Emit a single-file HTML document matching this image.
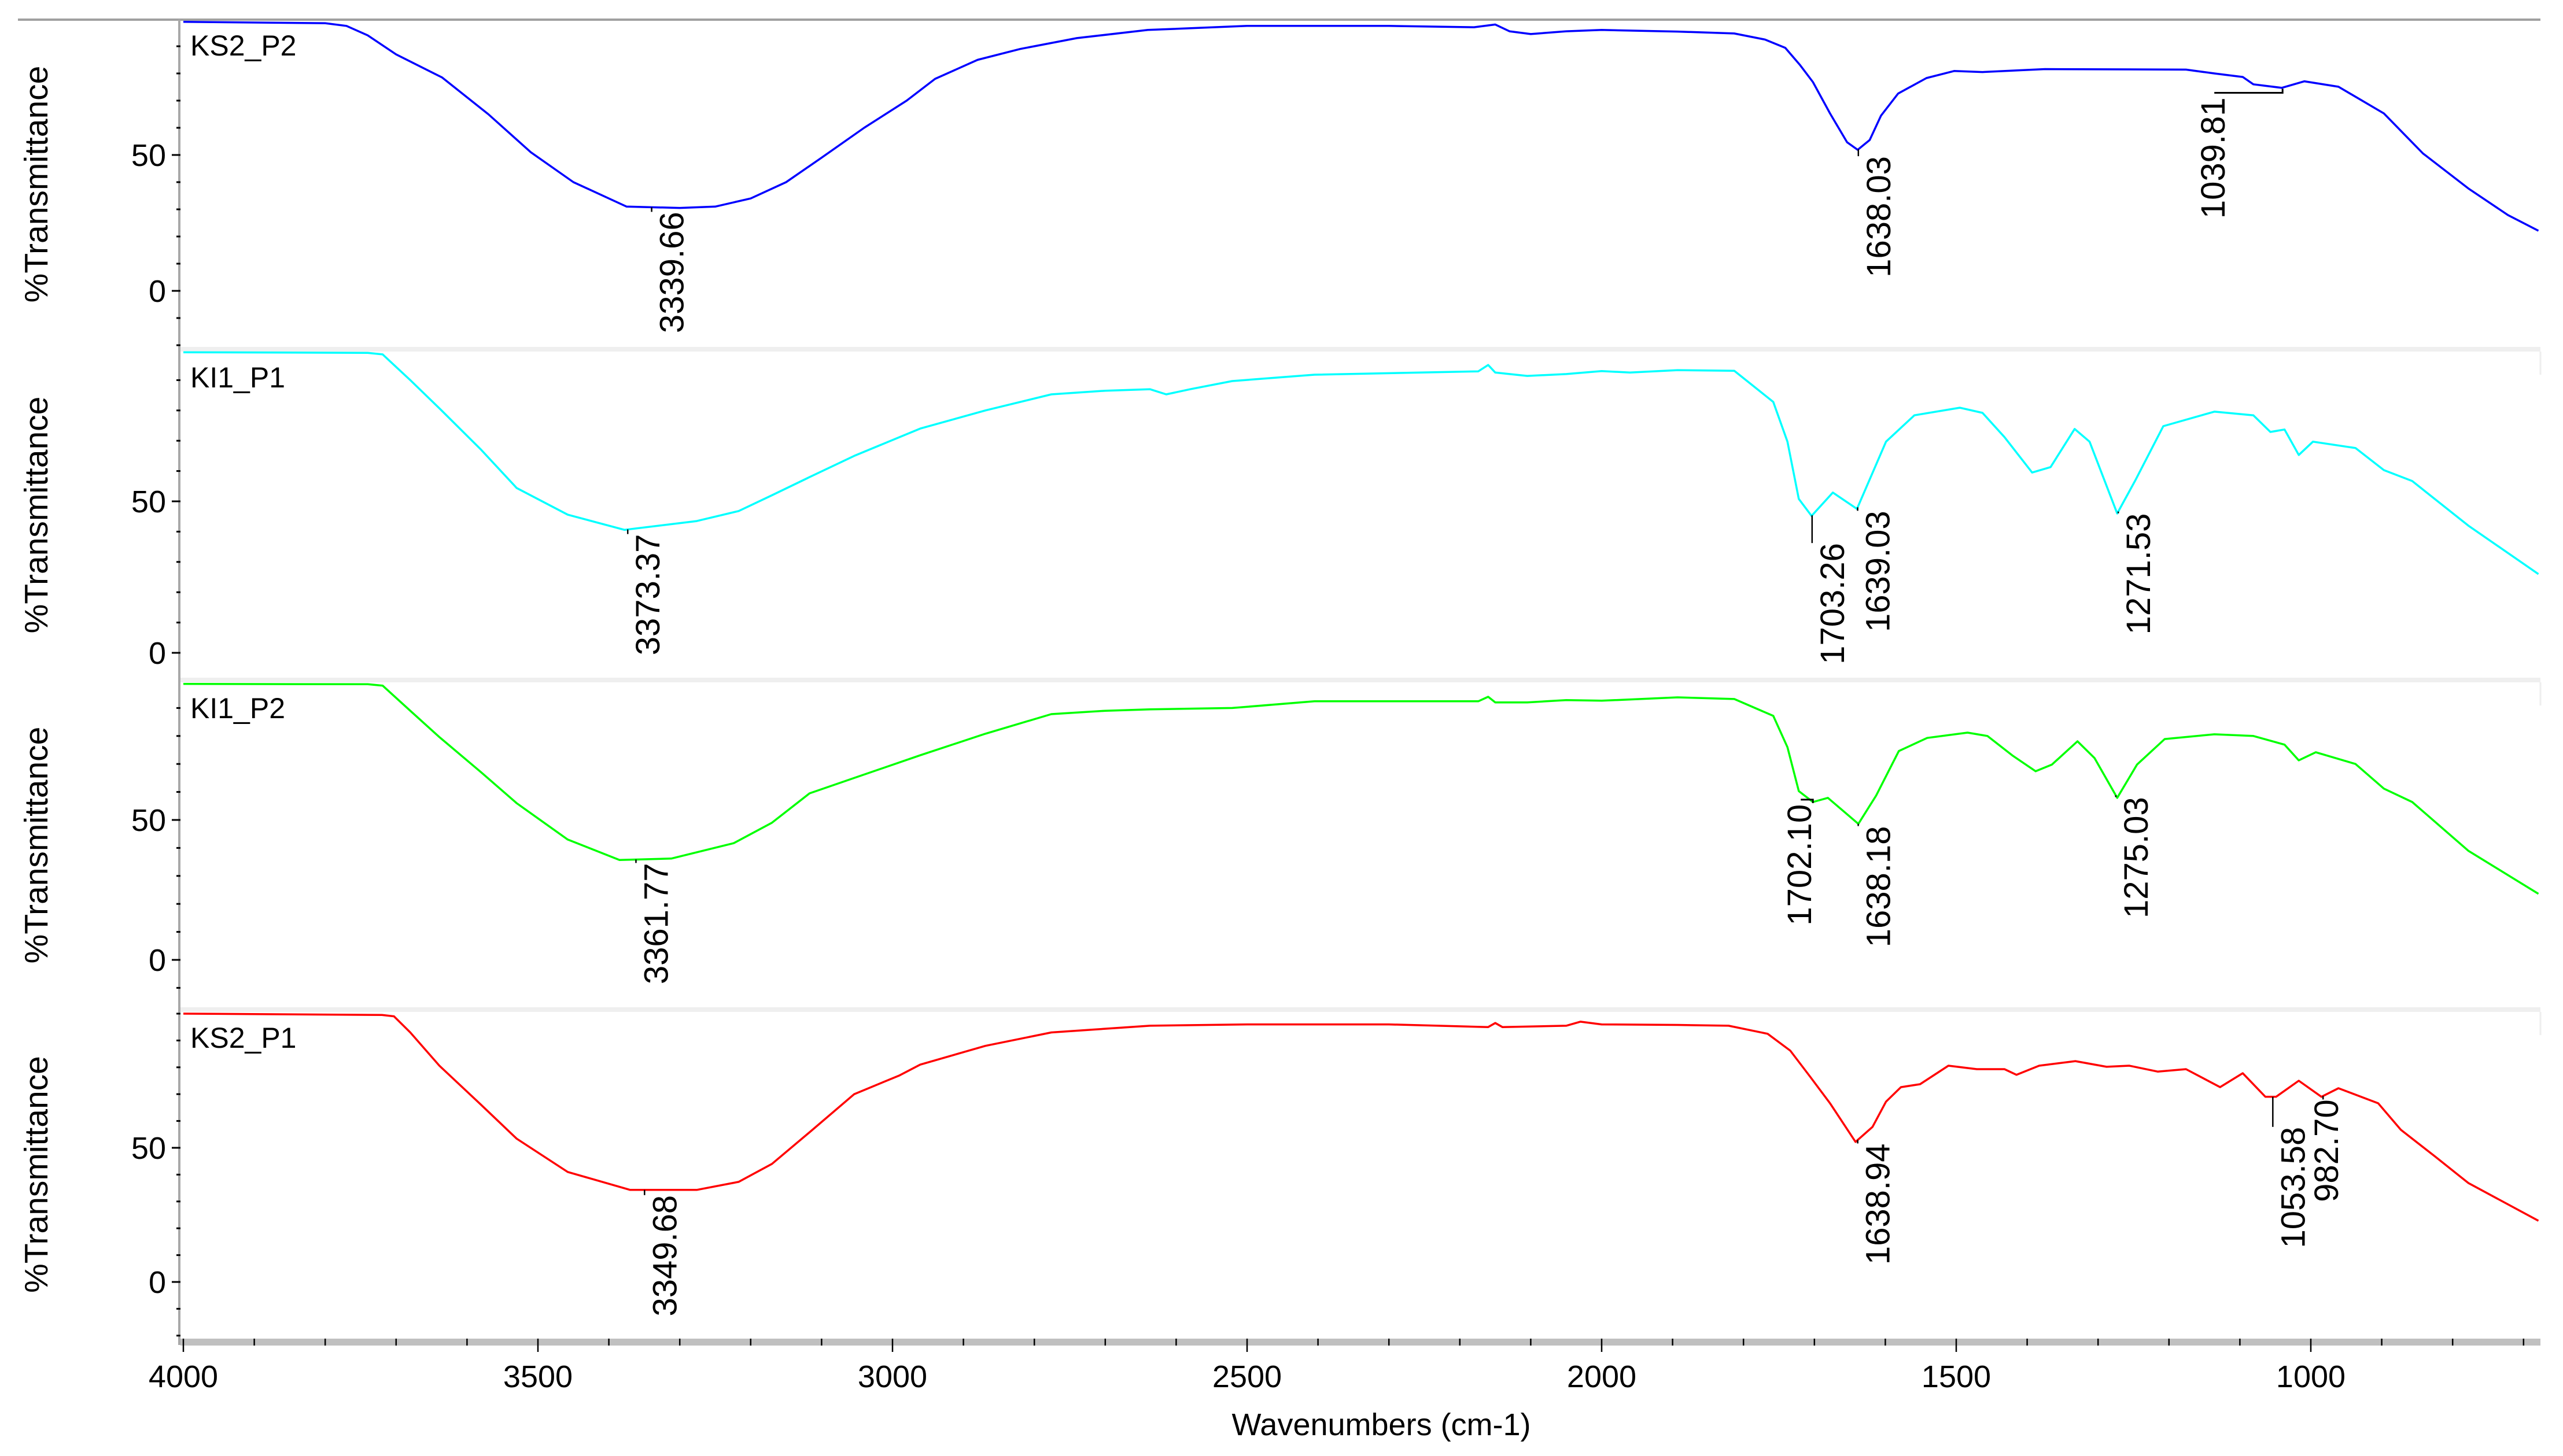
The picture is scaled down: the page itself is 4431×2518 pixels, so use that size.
<!DOCTYPE html>
<html><head><meta charset="utf-8"><title>FTIR spectra</title>
<style>
html,body{margin:0;padding:0;background:#fff;}
svg{display:block;font-family:"Liberation Sans",Arial,sans-serif;}
</style></head>
<body>
<svg id="chart" width="4431" height="2518" viewBox="0 0 4431 2518" xmlns="http://www.w3.org/2000/svg"></svg>
<script>
// ---- data ----
const seriesNames = ["KS2_P2","KI1_P1","KI1_P2","KS2_P1"];
const seriesColors = ["#0000ff","#00ffff","#00ff00","#ff0000"];
const blueWn = [4000,3800,3770,3740,3700,3635,3570,3510,3450,3400,3375,3300,3250,3200,3150,3100,3040,2980,2940,2880,2820,2740,2640,2500,2300,2180,2150,2130,2100,2050,2000,1893,1813,1770,1741,1720,1702,1678,1654,1639,1622,1606,1582,1542,1503,1463,1375,1176,1136,1096,1081,1041,1009,961,897,842,778,722,679];
const blueT = [99,98.5,97.5,94,87,78.5,65,51,40,34,31,30.5,31,34,40,49,60,70,78,85,89,93,96,97.5,97.5,97,98,95.5,94.5,95.5,96,95.4,94.7,92.5,89.4,83,76.8,65.3,54.7,51.9,55.5,64.5,72.6,78.3,80.9,80.5,81.6,81.4,80,78.7,76,74.7,77.1,75.1,65.3,50.6,37.7,27.9,22.1];
const cyanWn = [4000,3740,3719,3680,3639,3580,3530,3458,3378,3276,3217,3170,3117,3054,2961,2869,2776,2700,2637,2614,2580,2521,2405,2174,2160,2150,2105,2050,2000,1960,1893,1813,1758,1738,1722,1704,1674,1640,1599,1559,1495,1463,1432,1393,1367,1333,1312,1273,1248,1208,1136,1081,1057,1037,1017,997,937,897,857,778,679];
const cyanT = [99.2,99,98.5,90,80.7,67,54.4,45.6,40.6,43.5,46.8,52,58,65,74,80,85.3,86.5,87,85.3,87,89.7,91.8,92.9,95,92.5,91.4,92,93,92.5,93.3,93.1,82.8,69.7,50.8,45.2,52.9,47.5,69.7,78.4,80.9,79.2,71.2,59.5,61.3,73.9,69.7,46,56.7,74.8,79.6,78.4,72.9,73.7,65.3,69.7,67.6,60.3,56.7,42,26];
const greenWn = [4000,3740,3719,3680,3639,3580,3530,3458,3385,3312,3224,3170,3117,3054,2961,2869,2776,2700,2637,2521,2405,2174,2160,2150,2105,2050,2000,1893,1813,1758,1738,1722,1702,1681,1638,1613,1581,1541,1484,1456,1420,1388,1365,1329,1305,1273,1245,1206,1136,1081,1037,1017,993,937,897,857,778,679];
const greenT = [98.6,98.5,98,89,79.6,67,56,43,35.7,36.2,41.7,49,59.5,65,73.1,80.8,87.8,89,89.5,90,92.4,92.4,94,92,92,92.8,92.6,93.8,93.2,87.2,76,60.3,56.4,57.9,48.6,58.7,74.6,79.3,81.2,80,72.9,67.4,69.8,78.1,72.1,57.9,69.8,78.9,80.6,80,76.9,71.3,74.2,70,61.2,56.4,39,23.6];
const redWn = [4000,3720,3703,3680,3639,3580,3530,3458,3370,3276,3217,3170,3117,3054,2990,2961,2869,2776,2637,2500,2300,2160,2150,2140,2050,2030,2000,1893,1821,1766,1734,1706,1678,1642,1618,1599,1578,1551,1511,1471,1432,1415,1383,1332,1288,1256,1216,1176,1128,1096,1064,1049,1017,985,961,905,873,825,778,679];
const redT = [100,99.5,99,93,80.6,66,53.4,41,34.3,34.3,37.3,44,55.8,70,77,81,88,93,95.5,96,96,95,96.5,95,95.5,97,96,95.8,95.5,92.5,86.2,76.5,66.6,52.2,57.8,67.2,72.6,73.7,80.6,79.3,79.3,77.2,80.6,82.3,80.2,80.6,78.4,79.3,72.6,77.8,69,69,75,69,72.2,66.6,56.7,46.8,36.9,22.8];
const xTicks = [4000,3500,3000,2500,2000,1500,1000];
const yTickLabels = [0,50];
// peak annotations per panel
const peakPanel = [0,0,0,1,1,1,1,2,2,2,2,3,3,3,3];
const peakWn = [3339.66,1638.03,1039.81,3373.37,1703.26,1639.03,1271.53,3361.77,1702.10,1638.18,1275.03,3349.68,1638.94,1053.58,982.70];
const peakText = ["3339.66","1638.03","1039.81","3373.37","1703.26","1639.03","1271.53","3361.77","1702.10","1638.18","1275.03","3349.68","1638.94","1053.58","982.70"];

// ---- layout ----
const X0 = 317, PXPER = 1.226, XR = 4392;
const panels = [
  {top:34, y0:503, y50:268, bottom:603},
  {top:608, y0:1129, y50:867, bottom:1173},
  {top:1180, y0:1660, y50:1418, bottom:1743},
  {top:1750, y0:2217, y50:1985, bottom:2312}
];
const peakDx = [55,55,-100,55,55,55,55,55,-3,55,55,55,55,55,26];
const peakGap = [8,12,17,8,48,6,3,6,4,4,3,9,6,52,6];
const series = [[blueWn,blueT],[cyanWn,cyanT],[greenWn,greenT],[redWn,redT]];

const NS = "http://www.w3.org/2000/svg";
const svg = document.getElementById("chart");
function xs(w){ return X0 + (4000 - w) * PXPER; }
function ys(p, t){ const P = panels[p]; return P.y0 - t * (P.y0 - P.y50) / 50; }
function mk(tag, attrs, parent){
  const e = document.createElementNS(NS, tag);
  for (const k in attrs) e.setAttribute(k, attrs[k]);
  (parent || svg).appendChild(e);
  return e;
}
function interp(wn, T, w){
  for (let i=0;i<wn.length-1;i++){
    if (w <= wn[i] && w >= wn[i+1]){
      const f = (wn[i]-w)/(wn[i]-wn[i+1]);
      return T[i] + f*(T[i+1]-T[i]);
    }
  }
  return T[T.length-1];
}

// top border
let e = mk("line",{x1:31,y1:34,x2:XR,y2:34,stroke:"#a0a0a0","stroke-width":4});



// panel separators
for (let p=1;p<4;p++){
  e = mk("rect",{x:312,y:panels[p].top-8,width:XR-312,height:8,fill:"#efefef"});
  
  
  e = mk("line",{x1:XR,y1:panels[p].top,x2:XR,y2:panels[p].top+40,stroke:"#eeeeee","stroke-width":3});
  
  
}

// left axis
e = mk("line",{x1:310,y1:34,x2:310,y2:2326,stroke:"#a8a8a8","stroke-width":4});



for (let p=0;p<4;p++){
  const P = panels[p];
  const g = mk("g",{});
  
  
  for (let t=-20;t<=110;t+=10){
    const y = ys(p,t);
    if (y < P.top+2 || y > P.bottom+2) continue;
    const major = yTickLabels.indexOf(t) >= 0;
    e = mk("line",{x1: major?297:305, y1:y, x2:312, y2:y, stroke:"#000","stroke-width":3}, g);
    
    
  }
  yTickLabels.forEach(t=>{
    e = mk("text",{x:287,y:ys(p,t)+19,"text-anchor":"end","font-size":54,fill:"#000"}, g);
    e.textContent = t;
    
    
  });
  const cy = (P.top + P.bottom)/2;
  e = mk("text",{x:0,y:0,"text-anchor":"middle","font-size":57,fill:"#000",transform:"translate(82,"+cy+") rotate(-90)"}, g);
  e.textContent = "%Transmittance";
  
  
  const [wn,T] = series[p];
  const pts = wn.map((w,i)=> xs(w).toFixed(1)+","+ys(p,T[i]).toFixed(1)).join(" ");
  e = mk("polyline",{points:pts,fill:"none",stroke:seriesColors[p],"stroke-width":3.5,"stroke-linejoin":"round"}, g);
  
  
  e = mk("text",{x:329,y:P.top+62,"font-size":50,fill:"#000"}, g);
  e.textContent = seriesNames[p];
  
  
}

// peak annotations
peakWn.forEach((w,i)=>{
  const p = peakPanel[i];
  const [wn,T] = series[p];
  const px = xs(w);
  const py = ys(p, interp(wn,T,w));
  const top = py + peakGap[i];
  const g = mk("g",{});
  
  
  if (peakDx[i] < 0){
    e = mk("polyline",{points:(px)+","+(py+2)+" "+(px)+","+(top-8)+" "+(px+peakDx[i]-18)+","+(top-8),fill:"none",stroke:"#000","stroke-width":3}, g);
  } else {
    e = mk("line",{x1:px,y1:py,x2:px,y2:top,stroke:"#000","stroke-width":2.5}, g);
  }
  
  
  e = mk("text",{x:0,y:0,"text-anchor":"end","font-size":58,fill:"#000",transform:"translate("+(px+peakDx[i])+","+top+") rotate(-90)"}, g);
  e.textContent = peakText[i];
  
  
});

// x axis bar
e = mk("rect",{x:312,y:2315,width:XR-312,height:12,fill:"#c0c0c0"});


for (let w=4000; w>=700; w-=100){
  const x = xs(w);
  const major = xTicks.indexOf(w) >= 0;
  e = mk("line",{x1:x,y1:2315,x2:x,y2: major?2338:2327,stroke:"#000","stroke-width":2.5});
  
  
}
xTicks.forEach(w=>{
  e = mk("text",{x:xs(w),y:2399,"text-anchor":"middle","font-size":54,fill:"#000"});
  e.textContent = w;
  
  
});
e = mk("text",{x:2388,y:2482,"text-anchor":"middle","font-size":54,fill:"#000"});
e.textContent = "Wavenumbers (cm-1)";


</script>
</body></html>
